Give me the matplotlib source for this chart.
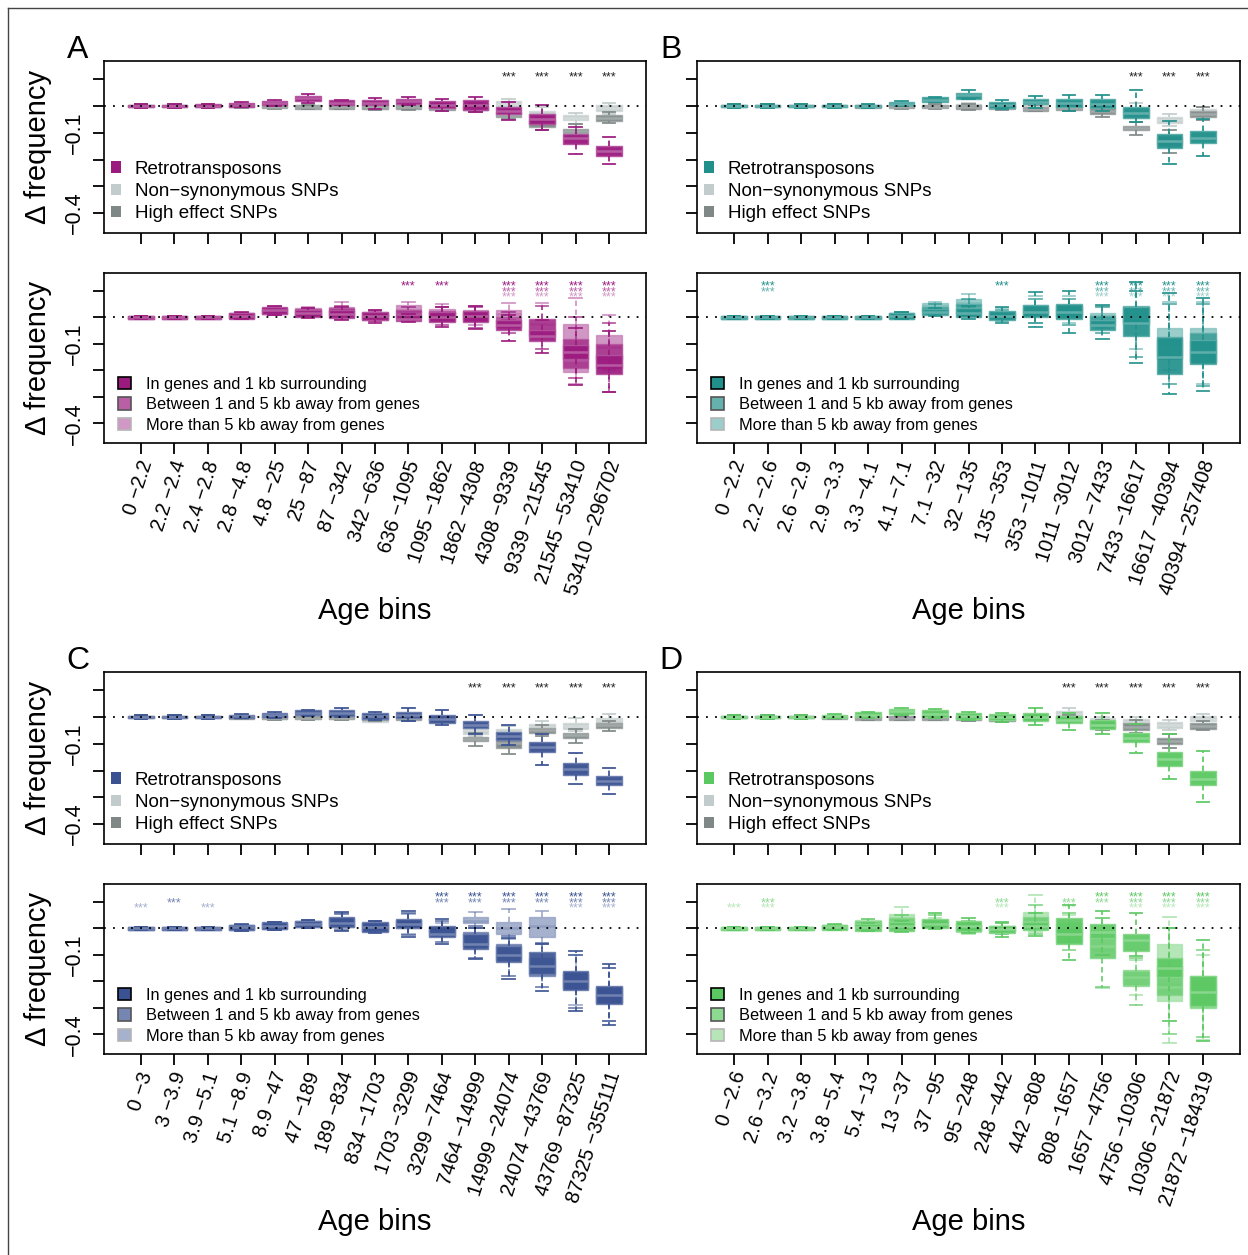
import matplotlib
matplotlib.use('Agg')
import matplotlib.pyplot as plt
from matplotlib.patches import Patch
from matplotlib.lines import Line2D
from matplotlib.colors import to_rgb
from matplotlib.transforms import ScaledTranslation

plt.rcParams['font.family'] = ['Liberation Sans', 'DejaVu Sans']

W, H = 1248, 1255

# ---- data: each box is (whisker low, q1, median, q3, whisker high) ----
A_labels = ["0 −2.2", "2.2 −2.4", "2.4 −2.8", "2.8 −4.8", "4.8 −25", "25 −87", "87 −342",
            "342 −636", "636 −1095", "1095 −1862", "1862 −4308", "4308 −9339",
            "9339 −21545", "21545 −53410", "53410 −296702"]
B_labels = ["0 −2.2", "2.2 −2.6", "2.6 −2.9", "2.9 −3.3", "3.3 −4.1", "4.1 −7.1", "7.1 −32",
            "32 −135", "135 −353", "353 −1011", "1011 −3012", "3012 −7433",
            "7433 −16617", "16617 −40394", "40394 −257408"]
C_labels = ["0 −3", "3 −3.9", "3.9 −5.1", "5.1 −8.9", "8.9 −47", "47 −189", "189 −834",
            "834 −1703", "1703 −3299", "3299 −7464", "7464 −14999", "14999 −24074",
            "24074 −43769", "43769 −87325", "87325 −355111"]
D_labels = ["0 −2.6", "2.6 −3.2", "3.2 −3.8", "3.8 −5.4", "5.4 −13", "13 −37", "37 −95",
            "95 −248", "248 −442", "442 −808", "808 −1657", "1657 −4756",
            "4756 −10306", "10306 −21872", "21872 −184319"]

# top panels: retrotransposons / non-synonymous SNPs / high effect SNPs
A_retro = [(-0.008, -0.005, 0.000, 0.005, 0.008), (-0.008, -0.005, 0.000, 0.005, 0.008),
           (-0.006, -0.004, 0.001, 0.006, 0.009), (-0.004, -0.002, 0.005, 0.012, 0.014),
           (0.000, 0.004, 0.012, 0.020, 0.024), (0.012, 0.019, 0.029, 0.039, 0.045),
           (0.002, 0.005, 0.013, 0.021, 0.024), (-0.012, 0.002, 0.012, 0.022, 0.029),
           (0.004, 0.009, 0.018, 0.027, 0.032), (-0.018, -0.009, 0.005, 0.020, 0.028),
           (-0.022, -0.015, 0.004, 0.022, 0.035), (-0.052, -0.030, -0.018, -0.005, 0.015),
           (-0.090, -0.067, -0.048, -0.030, 0.005), (-0.178, -0.140, -0.121, -0.105, -0.080),
           (-0.215, -0.188, -0.167, -0.150, -0.115)]
A_nonsyn = [(-0.006, -0.004, 0.000, 0.004, 0.006), (-0.006, -0.004, 0.000, 0.004, 0.006),
            (-0.006, -0.004, 0.000, 0.004, 0.006), (-0.006, -0.004, 0.000, 0.004, 0.006),
            (-0.007, -0.005, 0.000, 0.004, 0.006), (-0.008, -0.005, 0.000, 0.005, 0.008),
            (-0.008, -0.005, 0.000, 0.005, 0.008), (-0.016, -0.012, -0.002, 0.010, 0.015),
            (-0.010, -0.006, 0.000, 0.006, 0.010), (-0.016, -0.012, -0.003, 0.008, 0.014),
            (-0.020, -0.015, -0.005, 0.006, 0.012), (-0.010, -0.005, 0.007, 0.019, 0.028),
            (-0.090, -0.072, -0.045, -0.020, -0.005), (-0.066, -0.054, -0.044, -0.035, -0.025),
            (-0.029, -0.019, -0.008, 0.002, 0.012)]
A_high = [(-0.006, -0.004, 0.000, 0.004, 0.006), (-0.006, -0.004, 0.000, 0.004, 0.006),
          (-0.006, -0.004, 0.000, 0.004, 0.006), (-0.007, -0.005, 0.000, 0.004, 0.006),
          (-0.010, -0.008, -0.002, 0.004, 0.006), (-0.012, -0.010, -0.004, 0.002, 0.004),
          (-0.012, -0.010, -0.004, 0.002, 0.004), (-0.014, -0.012, -0.004, 0.004, 0.008),
          (-0.014, -0.012, -0.005, 0.002, 0.006), (-0.018, -0.014, -0.006, 0.002, 0.006),
          (-0.022, -0.016, -0.008, 0.000, 0.006), (-0.050, -0.041, -0.032, -0.022, -0.015),
          (-0.090, -0.078, -0.065, -0.052, -0.040), (-0.110, -0.101, -0.093, -0.085, -0.066),
          (-0.064, -0.056, -0.045, -0.035, -0.022)]

B_retro = [(-0.006, -0.004, 0.000, 0.004, 0.006), (-0.006, -0.004, 0.000, 0.004, 0.006),
           (-0.006, -0.004, 0.000, 0.004, 0.006), (-0.006, -0.004, 0.000, 0.004, 0.006),
           (-0.006, -0.004, 0.001, 0.005, 0.007), (0.000, 0.002, 0.008, 0.016, 0.018),
           (0.014, 0.016, 0.024, 0.032, 0.034), (0.025, 0.028, 0.040, 0.050, 0.058),
           (-0.011, -0.006, 0.004, 0.014, 0.021), (-0.009, 0.006, 0.016, 0.026, 0.038),
           (-0.019, -0.005, 0.010, 0.025, 0.040), (-0.020, -0.009, 0.008, 0.025, 0.040),
           (-0.060, -0.043, -0.027, -0.004, 0.061), (-0.217, -0.155, -0.129, -0.103, -0.057),
           (-0.186, -0.139, -0.120, -0.094, -0.050)]
B_nonsyn = [(-0.006, -0.004, 0.000, 0.004, 0.006), (-0.006, -0.004, 0.000, 0.004, 0.006),
            (-0.006, -0.004, 0.000, 0.004, 0.006), (-0.006, -0.004, 0.000, 0.004, 0.006),
            (-0.006, -0.004, 0.000, 0.004, 0.006), (-0.008, -0.005, 0.000, 0.005, 0.008),
            (-0.008, -0.005, 0.000, 0.005, 0.008), (-0.010, -0.006, 0.000, 0.006, 0.010),
            (-0.010, -0.006, 0.000, 0.006, 0.010), (-0.014, -0.008, 0.000, 0.006, 0.012),
            (-0.015, -0.008, 0.000, 0.006, 0.012), (-0.025, -0.020, -0.012, -0.005, 0.000),
            (-0.060, -0.045, -0.030, -0.010, 0.010), (-0.073, -0.062, -0.052, -0.041, -0.031),
            (-0.035, -0.028, -0.020, -0.012, -0.005)]
B_high = [(-0.006, -0.004, 0.000, 0.004, 0.006), (-0.006, -0.004, 0.000, 0.004, 0.006),
          (-0.006, -0.004, 0.000, 0.004, 0.006), (-0.006, -0.004, 0.000, 0.004, 0.006),
          (-0.008, -0.006, -0.001, 0.003, 0.005), (-0.012, -0.009, -0.003, 0.003, 0.006),
          (-0.012, -0.009, -0.003, 0.003, 0.006), (-0.014, -0.011, -0.004, 0.005, 0.008),
          (-0.016, -0.013, -0.007, 0.001, 0.004), (-0.020, -0.019, -0.010, -0.002, 0.002),
          (-0.020, -0.015, -0.008, 0.000, 0.004), (-0.042, -0.030, -0.020, -0.009, 0.000),
          (-0.108, -0.090, -0.082, -0.074, -0.058), (-0.175, -0.145, -0.130, -0.114, -0.090),
          (-0.054, -0.041, -0.030, -0.019, -0.003)]

C_retro = [(-0.006, -0.004, 0.000, 0.004, 0.006), (-0.006, -0.004, 0.000, 0.004, 0.006),
           (-0.006, -0.004, 0.000, 0.004, 0.006), (-0.004, -0.002, 0.003, 0.008, 0.010),
           (-0.002, 0.000, 0.008, 0.016, 0.018), (0.004, 0.006, 0.016, 0.026, 0.028),
           (0.000, 0.004, 0.016, 0.028, 0.035), (-0.012, -0.009, 0.003, 0.014, 0.017),
           (-0.015, -0.005, 0.008, 0.020, 0.035), (-0.030, -0.023, -0.008, 0.006, 0.025),
           (-0.064, -0.040, -0.028, -0.015, 0.006), (-0.104, -0.085, -0.070, -0.056, -0.031),
           (-0.179, -0.132, -0.113, -0.095, -0.064), (-0.250, -0.216, -0.194, -0.172, -0.135),
           (-0.288, -0.253, -0.237, -0.221, -0.190)]
C_nonsyn = [(-0.006, -0.004, 0.000, 0.004, 0.006), (-0.006, -0.004, 0.000, 0.004, 0.006),
            (-0.006, -0.004, 0.000, 0.004, 0.006), (-0.007, -0.005, 0.000, 0.004, 0.006),
            (-0.010, -0.007, -0.002, 0.004, 0.006), (-0.010, -0.007, -0.002, 0.004, 0.006),
            (-0.012, -0.008, -0.002, 0.004, 0.006), (-0.020, -0.017, -0.005, 0.010, 0.012),
            (-0.012, -0.008, -0.002, 0.004, 0.010), (-0.020, -0.015, -0.008, -0.001, 0.005),
            (-0.070, -0.062, -0.050, -0.040, -0.030), (-0.070, -0.064, -0.055, -0.045, -0.035),
            (-0.062, -0.046, -0.036, -0.027, -0.015), (-0.052, -0.043, -0.032, -0.021, -0.002),
            (-0.033, -0.023, -0.012, -0.002, 0.012)]
C_high = [(-0.006, -0.004, 0.000, 0.004, 0.006), (-0.006, -0.004, 0.000, 0.004, 0.006),
          (-0.006, -0.004, 0.000, 0.004, 0.006), (-0.008, -0.006, -0.001, 0.003, 0.005),
          (-0.012, -0.009, -0.003, 0.003, 0.006), (-0.012, -0.009, -0.003, 0.003, 0.006),
          (-0.012, -0.009, -0.003, 0.003, 0.006), (-0.015, -0.012, -0.005, 0.002, 0.005),
          (-0.014, -0.010, -0.004, 0.002, 0.005), (-0.022, -0.018, -0.010, -0.002, 0.002),
          (-0.108, -0.091, -0.082, -0.073, -0.058), (-0.138, -0.114, -0.098, -0.083, -0.058),
          (-0.070, -0.058, -0.050, -0.040, -0.030), (-0.098, -0.080, -0.068, -0.058, -0.046),
          (-0.052, -0.040, -0.030, -0.021, -0.015)]

D_retro = [(-0.006, -0.004, 0.000, 0.004, 0.006), (-0.006, -0.004, 0.000, 0.004, 0.006),
           (-0.006, -0.004, 0.000, 0.004, 0.006), (-0.004, -0.002, 0.003, 0.008, 0.010),
           (-0.002, 0.000, 0.009, 0.018, 0.020), (0.008, 0.012, 0.021, 0.030, 0.034),
           (-0.004, 0.001, 0.013, 0.025, 0.031), (-0.010, -0.006, 0.005, 0.016, 0.020),
           (-0.020, -0.011, 0.000, 0.012, 0.016), (-0.028, -0.015, 0.000, 0.016, 0.033),
           (-0.048, -0.023, -0.010, 0.004, 0.016), (-0.064, -0.046, -0.030, -0.011, 0.016),
           (-0.135, -0.095, -0.077, -0.058, -0.027), (-0.231, -0.181, -0.158, -0.132, -0.064),
           (-0.317, -0.253, -0.230, -0.200, -0.126)]
D_nonsyn = [(-0.006, -0.004, 0.000, 0.004, 0.006), (-0.006, -0.004, 0.000, 0.004, 0.006),
            (-0.006, -0.004, 0.000, 0.004, 0.006), (-0.007, -0.005, 0.000, 0.004, 0.006),
            (-0.010, -0.007, -0.002, 0.004, 0.006), (-0.010, -0.007, -0.002, 0.004, 0.006),
            (-0.012, -0.008, -0.002, 0.004, 0.006), (-0.014, -0.010, -0.003, 0.004, 0.008),
            (-0.020, -0.016, -0.008, 0.000, 0.004), (-0.016, -0.012, -0.004, 0.004, 0.008),
            (-0.005, 0.004, 0.012, 0.022, 0.035), (-0.030, -0.020, -0.012, -0.005, 0.000),
            (-0.040, -0.027, -0.018, -0.009, 0.000), (-0.050, -0.040, -0.030, -0.019, -0.010),
            (-0.025, -0.015, -0.006, 0.004, 0.010)]
D_high = [(-0.006, -0.004, 0.000, 0.004, 0.006), (-0.006, -0.004, 0.000, 0.004, 0.006),
          (-0.006, -0.004, 0.000, 0.004, 0.006), (-0.008, -0.006, -0.001, 0.003, 0.005),
          (-0.012, -0.010, -0.004, 0.002, 0.004), (-0.012, -0.010, -0.004, 0.002, 0.004),
          (-0.012, -0.010, -0.004, 0.002, 0.004), (-0.014, -0.011, -0.005, 0.002, 0.004),
          (-0.020, -0.016, -0.009, -0.002, 0.002), (-0.016, -0.012, -0.005, 0.002, 0.006),
          (-0.020, -0.012, -0.005, 0.002, 0.008), (-0.050, -0.040, -0.028, -0.020, -0.010),
          (-0.060, -0.048, -0.036, -0.023, -0.010), (-0.115, -0.101, -0.089, -0.077, -0.064),
          (-0.050, -0.043, -0.033, -0.023, -0.015)]

# bottom panels: in genes (+1 kb) / 1-5 kb away / more than 5 kb away
A_genes = [(-0.006, -0.004, 0.000, 0.004, 0.006), (-0.006, -0.004, 0.000, 0.004, 0.006),
           (-0.006, -0.004, 0.000, 0.004, 0.006), (-0.006, -0.004, 0.006, 0.018, 0.020),
           (0.011, 0.015, 0.027, 0.038, 0.044), (-0.001, 0.003, 0.018, 0.030, 0.036),
           (-0.010, -0.001, 0.012, 0.028, 0.040), (-0.019, -0.010, 0.004, 0.020, 0.028),
           (-0.016, -0.014, -0.004, 0.009, 0.015), (-0.035, -0.016, 0.000, 0.020, 0.040),
           (-0.045, -0.016, 0.005, 0.025, 0.045), (-0.090, -0.048, -0.030, -0.010, 0.009),
           (-0.133, -0.090, -0.070, -0.048, -0.010), (-0.254, -0.156, -0.130, -0.103, -0.040),
           (-0.280, -0.213, -0.180, -0.140, -0.050)]
A_near = [(-0.006, -0.004, 0.000, 0.004, 0.006), (-0.006, -0.004, 0.000, 0.004, 0.006),
          (-0.006, -0.004, 0.000, 0.004, 0.006), (-0.004, -0.002, 0.006, 0.016, 0.018),
          (0.010, 0.014, 0.025, 0.036, 0.040), (0.000, 0.006, 0.020, 0.032, 0.036),
          (-0.005, 0.005, 0.020, 0.035, 0.045), (-0.015, -0.008, 0.005, 0.018, 0.025),
          (-0.015, 0.000, 0.015, 0.030, 0.040), (-0.030, -0.012, 0.005, 0.025, 0.040),
          (-0.040, -0.012, 0.005, 0.022, 0.040), (-0.060, -0.035, -0.020, 0.000, 0.020),
          (-0.120, -0.070, -0.050, -0.005, 0.045), (-0.230, -0.190, -0.160, -0.080, 0.000),
          (-0.280, -0.190, -0.150, -0.100, -0.020)]
A_far = [(-0.006, -0.004, 0.000, 0.004, 0.006), (-0.006, -0.004, 0.000, 0.004, 0.006),
         (-0.006, -0.004, 0.000, 0.004, 0.006), (-0.004, -0.002, 0.006, 0.016, 0.018),
         (0.010, 0.015, 0.026, 0.037, 0.042), (0.000, 0.008, 0.022, 0.034, 0.040),
         (0.000, 0.015, 0.028, 0.040, 0.060), (-0.015, -0.005, 0.008, 0.020, 0.030),
         (0.000, 0.015, 0.030, 0.047, 0.060), (-0.010, 0.003, 0.018, 0.032, 0.050),
         (-0.030, -0.010, 0.008, 0.028, 0.045), (-0.010, 0.003, 0.015, 0.028, 0.055),
         (-0.070, -0.048, -0.023, -0.004, 0.056), (-0.250, -0.206, -0.120, -0.025, 0.072),
         (-0.200, -0.156, -0.110, -0.067, 0.009)]

B_genes = [(-0.006, -0.004, 0.000, 0.004, 0.006), (-0.006, -0.004, 0.000, 0.004, 0.006),
           (-0.006, -0.004, 0.000, 0.004, 0.006), (-0.006, -0.004, 0.000, 0.004, 0.006),
           (-0.006, -0.004, 0.001, 0.005, 0.007), (-0.006, -0.004, 0.007, 0.018, 0.020),
           (0.006, 0.009, 0.020, 0.032, 0.035), (-0.004, 0.000, 0.017, 0.037, 0.045),
           (-0.019, -0.010, 0.004, 0.025, 0.038), (-0.035, 0.003, 0.020, 0.049, 0.097),
           (-0.057, -0.006, 0.022, 0.050, 0.099), (-0.082, -0.048, -0.030, -0.010, 0.047),
           (-0.171, -0.071, -0.020, 0.040, 0.135), (-0.289, -0.213, -0.150, -0.073, 0.091),
           (-0.276, -0.175, -0.130, -0.086, 0.072)]
B_near = [(-0.006, -0.004, 0.000, 0.004, 0.006), (-0.006, -0.004, 0.000, 0.004, 0.006),
          (-0.006, -0.004, 0.000, 0.004, 0.006), (-0.006, -0.004, 0.000, 0.004, 0.006),
          (-0.006, -0.004, 0.001, 0.005, 0.007), (-0.006, -0.004, 0.007, 0.017, 0.020),
          (0.010, 0.020, 0.030, 0.040, 0.050), (0.005, 0.015, 0.030, 0.050, 0.070),
          (-0.015, -0.005, 0.010, 0.020, 0.030), (-0.020, 0.005, 0.025, 0.040, 0.070),
          (-0.030, 0.000, 0.020, 0.045, 0.070), (-0.060, -0.030, -0.015, 0.005, 0.040),
          (-0.150, -0.023, 0.000, 0.045, 0.100), (-0.250, -0.155, -0.115, -0.080, 0.050),
          (-0.260, -0.168, -0.120, -0.060, 0.050)]
B_far = [(-0.006, -0.004, 0.000, 0.004, 0.006), (-0.006, -0.004, 0.000, 0.004, 0.006),
         (-0.006, -0.004, 0.000, 0.004, 0.006), (-0.006, -0.004, 0.000, 0.004, 0.006),
         (-0.006, -0.004, 0.001, 0.005, 0.007), (-0.005, -0.003, 0.008, 0.016, 0.018),
         (0.030, 0.034, 0.043, 0.053, 0.060), (0.040, 0.044, 0.055, 0.068, 0.087),
         (-0.005, 0.000, 0.010, 0.018, 0.035), (-0.020, 0.010, 0.030, 0.048, 0.080),
         (-0.020, 0.005, 0.025, 0.048, 0.080), (-0.040, -0.010, 0.005, 0.018, 0.045),
         (-0.120, -0.020, 0.010, 0.040, 0.100), (-0.200, -0.143, -0.105, -0.038, 0.060),
         (-0.250, -0.168, -0.100, -0.039, 0.060)]

C_genes = [(-0.006, -0.004, 0.000, 0.004, 0.006), (-0.006, -0.004, 0.000, 0.004, 0.006),
           (-0.006, -0.004, 0.000, 0.004, 0.006), (-0.008, -0.006, 0.004, 0.014, 0.016),
           (-0.005, -0.003, 0.010, 0.023, 0.026), (0.002, 0.004, 0.016, 0.029, 0.032),
           (-0.009, 0.004, 0.022, 0.042, 0.063), (-0.016, -0.013, 0.005, 0.023, 0.030),
           (-0.032, 0.000, 0.017, 0.035, 0.066), (-0.060, -0.034, -0.020, 0.008, 0.036),
           (-0.116, -0.078, -0.060, -0.022, 0.000), (-0.192, -0.127, -0.100, -0.066, -0.035),
           (-0.237, -0.173, -0.140, -0.089, -0.060), (-0.313, -0.233, -0.200, -0.162, -0.085),
           (-0.363, -0.287, -0.250, -0.218, -0.135)]
C_near = [(-0.006, -0.004, 0.000, 0.004, 0.006), (-0.006, -0.004, 0.000, 0.004, 0.006),
          (-0.006, -0.004, 0.000, 0.004, 0.006), (-0.008, -0.006, 0.004, 0.013, 0.015),
          (-0.004, -0.002, 0.010, 0.022, 0.025), (0.002, 0.005, 0.016, 0.028, 0.031),
          (-0.005, 0.005, 0.020, 0.038, 0.055), (-0.015, -0.010, 0.005, 0.020, 0.028),
          (-0.025, 0.002, 0.018, 0.033, 0.060), (-0.050, -0.030, -0.015, 0.005, 0.030),
          (-0.110, -0.070, -0.050, -0.015, 0.010), (-0.180, -0.120, -0.095, -0.060, -0.030),
          (-0.220, -0.180, -0.150, -0.110, -0.055), (-0.300, -0.225, -0.195, -0.165, -0.100),
          (-0.350, -0.280, -0.255, -0.220, -0.150)]
C_far = [(-0.006, -0.004, 0.000, 0.004, 0.006), (-0.006, -0.004, 0.000, 0.004, 0.006),
         (-0.006, -0.004, 0.000, 0.004, 0.006), (-0.006, -0.004, 0.004, 0.012, 0.014),
         (-0.004, -0.002, 0.010, 0.021, 0.024), (0.003, 0.006, 0.017, 0.027, 0.030),
         (0.000, 0.010, 0.025, 0.040, 0.058), (-0.012, -0.008, 0.006, 0.020, 0.026),
         (-0.020, 0.005, 0.020, 0.033, 0.055), (-0.030, -0.015, -0.005, 0.005, 0.020),
         (0.000, 0.020, 0.030, 0.042, 0.061), (-0.040, -0.022, 0.000, 0.023, 0.073),
         (-0.060, -0.034, 0.010, 0.042, 0.067), (-0.290, -0.230, -0.200, -0.170, -0.100),
         (-0.350, -0.280, -0.245, -0.220, -0.150)]

D_genes = [(-0.006, -0.004, 0.000, 0.004, 0.006), (-0.006, -0.004, 0.000, 0.004, 0.006),
           (-0.006, -0.004, 0.000, 0.004, 0.006), (-0.006, -0.004, 0.004, 0.014, 0.016),
           (-0.010, -0.008, 0.005, 0.017, 0.020), (-0.012, -0.008, 0.010, 0.024, 0.030),
           (-0.001, 0.000, 0.018, 0.037, 0.058), (-0.016, -0.008, 0.010, 0.027, 0.040),
           (-0.033, -0.016, -0.003, 0.009, 0.024), (-0.030, -0.005, 0.010, 0.025, 0.060),
           (-0.118, -0.058, -0.020, 0.039, 0.090), (-0.100, -0.037, -0.015, 0.018, 0.065),
           (-0.105, -0.084, -0.045, -0.020, 0.058), (-0.350, -0.185, -0.150, -0.111, 0.000),
           (-0.425, -0.292, -0.240, -0.181, -0.042)]
D_near = [(-0.006, -0.004, 0.000, 0.004, 0.006), (-0.006, -0.004, 0.000, 0.004, 0.006),
          (-0.006, -0.004, 0.000, 0.004, 0.006), (-0.005, -0.003, 0.004, 0.013, 0.015),
          (0.000, 0.005, 0.018, 0.030, 0.035), (0.000, 0.010, 0.025, 0.040, 0.050),
          (0.000, 0.005, 0.020, 0.033, 0.050), (-0.015, -0.008, 0.005, 0.020, 0.030),
          (-0.020, -0.010, 0.000, 0.010, 0.020), (-0.020, 0.005, 0.025, 0.045, 0.090),
          (-0.080, -0.052, -0.030, 0.000, 0.060), (-0.220, -0.110, -0.065, -0.033, 0.040),
          (-0.289, -0.216, -0.185, -0.157, -0.110), (-0.400, -0.250, -0.220, -0.140, 0.000),
          (-0.410, -0.300, -0.250, -0.180, -0.080)]
D_far = [(-0.006, -0.004, 0.000, 0.004, 0.006), (-0.006, -0.004, 0.000, 0.004, 0.006),
         (-0.006, -0.004, 0.000, 0.004, 0.006), (-0.005, -0.003, 0.004, 0.012, 0.014),
         (0.005, 0.010, 0.022, 0.033, 0.035), (0.020, 0.024, 0.040, 0.056, 0.081),
         (0.000, 0.010, 0.020, 0.030, 0.040), (-0.020, -0.012, 0.000, 0.015, 0.025),
         (-0.020, -0.010, 0.000, 0.010, 0.020), (-0.015, 0.018, 0.040, 0.062, 0.128),
         (-0.050, -0.030, -0.005, 0.020, 0.050), (-0.223, -0.113, -0.080, -0.020, 0.040),
         (-0.250, -0.210, -0.180, -0.165, -0.120), (-0.432, -0.273, -0.210, -0.058, 0.043),
         (-0.420, -0.290, -0.250, -0.200, -0.100)]

# significance (bin numbers carrying ***)
A_sig_top = [12, 13, 14, 15]
B_sig_top = [13, 14, 15]
C_sig_top = [11, 12, 13, 14, 15]
D_sig_top = [11, 12, 13, 14, 15]
A_sig_bottom = [[9, 10, 12, 13, 14, 15], [12, 13, 14, 15], [12, 13, 14, 15]]
B_sig_bottom = [[2, 9, 12, 13, 14, 15], [2, 12, 13, 14, 15], [12, 13, 14, 15]]
C_sig_bottom = [[10, 11, 12, 13, 14, 15], [2, 10, 11, 12, 13, 14, 15], [1, 3, 14, 15]]
D_sig_bottom = [[12, 13, 14, 15], [2, 9, 11, 12, 13, 14, 15], [1, 2, 9, 11, 13, 14, 15]]

colA, colB, colC, colD = '#9b1a7e', '#21908b', '#3a5292', '#5cc862'
col_nonsyn, col_high = '#c3cccc', '#7f8787'

top_names = ['Retrotransposons', 'Non−synonymous SNPs', 'High effect SNPs']
bottom_names = ['In genes and 1 kb surrounding', 'Between 1 and 5 kb away from genes',
                'More than 5 kb away from genes']

positions = list(range(1, 16))
YLIM = (-0.474, 0.168)


def tint(c, f):
    r, g, b = to_rgb(c)
    return (r + (1 - r) * f, g + (1 - g) * f, b + (1 - b) * f)


def rect(x0, y0, x1, y1):
    return [x0 / W, 1 - y1 / H, (x1 - x0) / W, (y1 - y0) / H]


def draw_boxes(ax, data, color, alpha, z):
    stats = [dict(whislo=s[0], q1=s[1], med=s[2], q3=s[3], whishi=s[4]) for s in data]
    ax.bxp(stats, positions=positions, widths=0.76, capwidths=0.38, patch_artist=True,
           showfliers=False, manage_ticks=False, zorder=z,
           boxprops=dict(facecolor=color, edgecolor=tint(color, 0.25), linewidth=1.0, alpha=alpha),
           whiskerprops=dict(color=color, linestyle=(0, (3, 2)), linewidth=1.3, alpha=alpha),
           capprops=dict(color=color, linewidth=1.3, alpha=alpha),
           medianprops=dict(color=tint(color, 0.3), linewidth=1.8, alpha=alpha))


def style_axes(ax, ylabels):
    ax.set_xlim(-0.107, 16.107)
    ax.set_ylim(*YLIM)
    ax.axhline(0, color='black', linestyle=(0, (1, 4)), linewidth=1.3, zorder=10)
    ax.set_yticks([0.1, 0, -0.1, -0.2, -0.3, -0.4])
    if ylabels:
        ax.set_yticklabels(['', '', '−0.1', '', '', '−0.4'], rotation=90, va='center',
                           fontsize=15.5)
    else:
        ax.set_yticklabels([])
    ax.set_xticks(positions)
    ax.tick_params(length=8, width=1.3, pad=6)
    for s in ax.spines.values():
        s.set_linewidth(1.2)


def stars(ax, bins, y, color, alpha=1.0):
    for b in bins:
        ax.text(b, y, '***', ha='center', va='center', fontsize=9, color=color,
                alpha=alpha, zorder=12)


fig = plt.figure(figsize=(W / 100, H / 100), dpi=100)

panels = [
    ('A', colA, 104, 646, 61, 273, A_labels, (A_retro, A_nonsyn, A_high),
     (A_genes, A_near, A_far), A_sig_top, A_sig_bottom, True),
    ('B', colB, 697, 1240, 61, 273, B_labels, (B_retro, B_nonsyn, B_high),
     (B_genes, B_near, B_far), B_sig_top, B_sig_bottom, False),
    ('C', colC, 104, 646, 672, 884, C_labels, (C_retro, C_nonsyn, C_high),
     (C_genes, C_near, C_far), C_sig_top, C_sig_bottom, True),
    ('D', colD, 697, 1240, 672, 884, D_labels, (D_retro, D_nonsyn, D_high),
     (D_genes, D_near, D_far), D_sig_top, D_sig_bottom, False),
]

alphas = [1.0, 0.7, 0.45]
shift = ScaledTranslation(6 / 100, 0, fig.dpi_scale_trans)

for letter, col, x0, x1, ytop, ybot, labels, top_data, bot_data, sig_top, sig_bot, left in panels:
    # ---- top panel ----
    ax = fig.add_axes(rect(x0, ytop, x1, ytop + 172))
    retro, nonsyn, high = top_data
    draw_boxes(ax, nonsyn, col_nonsyn, 0.95, 2)
    draw_boxes(ax, high, col_high, 0.95, 3)
    draw_boxes(ax, retro, col, 0.96, 4)
    style_axes(ax, left)
    ax.set_xticklabels([])
    stars(ax, sig_top, 0.106, '#222222')
    handles = [Patch(facecolor=c, edgecolor='none') for c in (col, col_nonsyn, col_high)]
    ax.legend(handles, top_names, loc='upper left', bbox_to_anchor=(0.012, 0.42),
              frameon=False, fontsize=13.5, handlelength=0.55, handleheight=0.55,
              handletextpad=0.75, labelspacing=0.27, borderpad=0, borderaxespad=0)
    fig.text((x0 - 26) / W, 1 - (ytop - 11) / H, letter,
             fontsize=23, ha='center', va='center')
    if left:
        fig.text(38 / W, 1 - (ytop + 86) / H, 'Δ frequency', rotation=90, fontsize=21,
                 ha='center', va='center')

    # ---- bottom panel ----
    ax2 = fig.add_axes(rect(x0, ybot, x1, ybot + 170))
    far_z = {0: 4, 1: 3, 2: 2}
    for i, (data, a) in enumerate(zip(bot_data, alphas)):
        draw_boxes(ax2, data, col, 0.92 if i == 0 else a, far_z[i])
    style_axes(ax2, left)
    ax2.set_xticklabels(labels, rotation=72, ha='right', va='center', rotation_mode='anchor',
                        fontsize=14.5)
    ax2.tick_params(axis='x', pad=5)
    for lab in ax2.get_xticklabels():
        lab.set_transform(lab.get_transform() + shift)
    for row, a, y in zip(sig_bot, alphas, (0.116, 0.095, 0.074)):
        stars(ax2, row, y, col, a)
    edges = ['black', '#555555', '#b5b5b5']
    handles = [Patch(facecolor=tint(col, 1 - a), edgecolor=e, linewidth=1.2)
               for a, e in zip(alphas, edges)]
    ax2.legend(handles, bottom_names, loc='upper left', bbox_to_anchor=(0.026, 0.39),
               frameon=False, fontsize=11.8, handlelength=0.8, handleheight=0.8,
               handletextpad=0.9, labelspacing=0.34, borderpad=0, borderaxespad=0)
    if left:
        fig.text(38 / W, 1 - (ybot + 85) / H, 'Δ frequency', rotation=90, fontsize=21,
                 ha='center', va='center')
    fig.text((x0 + x1) / 2 / W, 1 - (ybot + 338) / H, 'Age bins', fontsize=21,
             ha='center', va='center')

# figure frame (left and top edges visible)
fig.add_artist(Line2D([8 / W, 8 / W], [0, 1 - 8 / H], color='#444444', linewidth=1.0))
fig.add_artist(Line2D([8 / W, 1], [1 - 8 / H, 1 - 8 / H], color='#444444', linewidth=1.0))

fig.savefig('out.png', dpi=100)
